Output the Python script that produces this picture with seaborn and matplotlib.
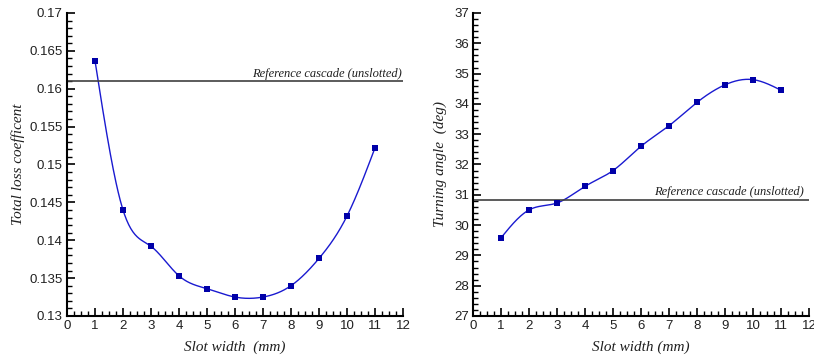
import numpy as np
import pandas as pd
import matplotlib
matplotlib.use("Agg")
import matplotlib.pyplot as plt
import seaborn as sns
from matplotlib.ticker import MultipleLocator, FormatStrFormatter

slot_width = [1, 2, 3, 4, 5, 6, 7, 8, 9, 10, 11]
loss_coeff = [0.1637, 0.1440, 0.1392, 0.1353, 0.1336, 0.1325, 0.1325, 0.1340, 0.1376, 0.1432, 0.1522]
turning_angle = [29.58, 30.50, 30.73, 31.28, 31.80, 32.60, 33.28, 34.05, 34.63, 34.80, 34.45]
ref_loss = 0.1610
ref_turning = 30.83
ref_label = "Reference cascade (unslotted)"


def natural_spline(x, y, n=400):
    x = np.asarray(x, float)
    y = np.asarray(y, float)
    m = len(x)
    h = np.diff(x)
    A = np.zeros((m, m))
    b = np.zeros(m)
    A[0, 0] = A[-1, -1] = 1
    for i in range(1, m - 1):
        A[i, i - 1] = h[i - 1]
        A[i, i] = 2 * (h[i - 1] + h[i])
        A[i, i + 1] = h[i]
        b[i] = 6 * ((y[i + 1] - y[i]) / h[i] - (y[i] - y[i - 1]) / h[i - 1])
    M = np.linalg.solve(A, b)
    xs = np.linspace(x[0], x[-1], n)
    idx = np.clip(np.searchsorted(x, xs) - 1, 0, m - 2)
    x0, x1 = x[idx], x[idx + 1]
    hh = x1 - x0
    ys = (M[idx] * (x1 - xs) ** 3 / (6 * hh) + M[idx + 1] * (xs - x0) ** 3 / (6 * hh)
          + (y[idx] / hh - M[idx] * hh / 6) * (x1 - xs)
          + (y[idx + 1] / hh - M[idx + 1] * hh / 6) * (xs - x0))
    return xs, ys


sns.set_style("white")
plt.rcParams["font.family"] = ["Liberation Sans", "DejaVu Sans"]

fig = plt.figure(figsize=(8.14, 3.56), dpi=100)
ax1 = fig.add_axes([0.0823, 0.1124, 0.4128, 0.8511])
ax2 = fig.add_axes([0.5811, 0.1124, 0.4128, 0.8511])

line_col = "#1a1ad0"
mark_col = "#0000a8"
serif = ["Liberation Serif", "DejaVu Serif"]

panels = [
    (ax1, loss_coeff, ref_loss, (0.13, 0.17), 0.005, 0.001, "%g", "Total loss coefficent", "Slot width  (mm)", 11.95, 3),
    (ax2, turning_angle, ref_turning, (27, 37), 1, 0.2, "%d", "Turning angle  (deg)", "Slot width (mm)", 11.8, 5),
]

for ax, vals, ref, ylim, ymaj, ymin, fmt, ylabel, xlabel, tx, lpad in panels:
    xs, ys = natural_spline(slot_width, vals)
    sns.lineplot(x=xs, y=ys, ax=ax, color=line_col, lw=1.0, sort=False)
    sns.scatterplot(x=slot_width, y=vals, ax=ax, marker="s", color=mark_col,
                    s=22, edgecolor=mark_col, linewidth=0, zorder=5)
    ax.axhline(ref, color="#404040", lw=1.2, xmin=0, xmax=1)
    ax.text(tx, ref + (ylim[1] - ylim[0]) * 0.005, ref_label, ha="right", va="bottom",
            fontsize=9, style="italic", family=serif, color="#202020")
    ax.set_xlim(0, 12)
    ax.set_ylim(*ylim)
    ax.xaxis.set_major_locator(MultipleLocator(1))
    ax.xaxis.set_minor_locator(MultipleLocator(0.25))
    ax.yaxis.set_major_locator(MultipleLocator(ymaj))
    ax.yaxis.set_minor_locator(MultipleLocator(ymin))
    ax.yaxis.set_major_formatter(FormatStrFormatter(fmt))
    for s in ["top", "right"]:
        ax.spines[s].set_visible(False)
    for s in ["left", "bottom"]:
        ax.spines[s].set_color("black")
        ax.spines[s].set_linewidth(1.5)
    ax.tick_params(which="major", direction="in", length=6, width=1.2, labelsize=9.5,
                   color="black", labelcolor="#202020", pad=3)
    ax.tick_params(which="minor", direction="in", length=3.5, width=1.0, color="black")
    ax.tick_params(axis="both", which="both", left=True, bottom=True)
    ax.set_xlabel(xlabel, fontsize=11, style="italic", family=serif, labelpad=6, color="#202020")
    ax.set_ylabel(ylabel, fontsize=11, style="italic", family=serif, labelpad=lpad, color="#202020")

fig.savefig("out.png", dpi=100)
